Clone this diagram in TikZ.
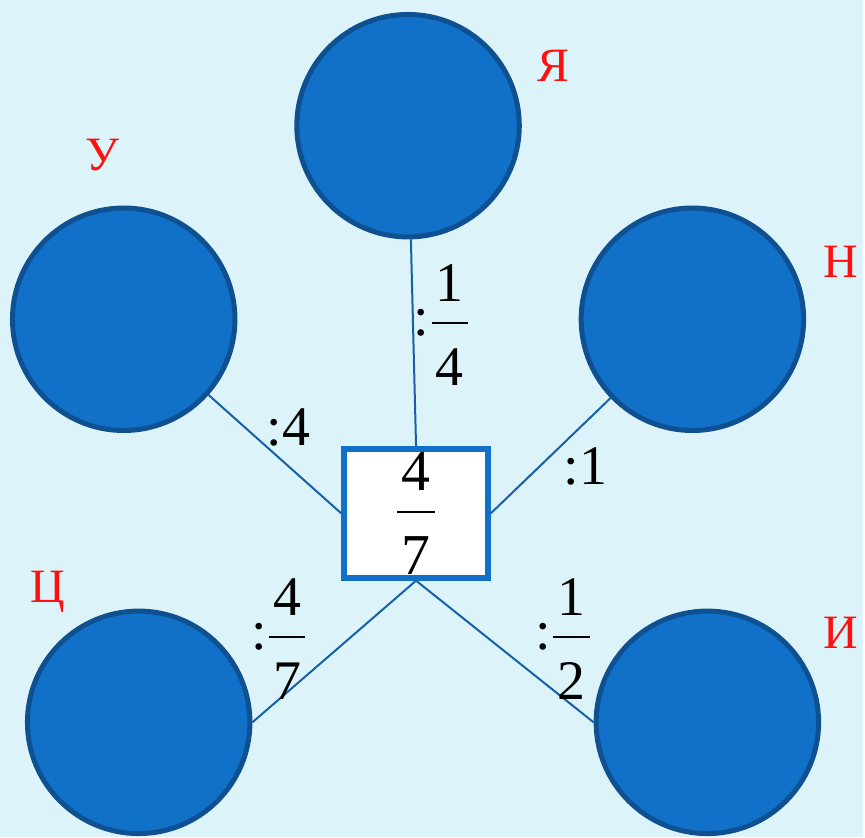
\documentclass[tikz,border=0pt]{standalone}
\usepackage{amsmath}
\usepackage{fontspec}
\setmainfont{Liberation Serif}
\definecolor{SkyBack}{HTML}{DCF4F9}
\definecolor{BallBlue}{HTML}{1170C8}
\definecolor{BallEdge}{HTML}{0F5091}
\definecolor{LinkBlue}{HTML}{1560A8}
\definecolor{LetterRed}{HTML}{FF1010}
\newcommand{\frc}[2]{\dfrac{\mkern1.5mu\text{#1}\rule[-6pt]{0pt}{0pt}\mkern1.5mu}{\rule{0pt}{28pt}\text{#2}}}

\begin{document}
\begin{tikzpicture}[x=0.5pt,y=-0.5pt,
  ball/.style={circle,draw=BallEdge,line width=2.5pt,fill=BallBlue,minimum size=111.5pt,inner sep=0pt},
  letter/.style={text=LetterRed,font=\fontsize{24}{26}\selectfont},
  lbl/.style={font=\fontsize{28}{30}\selectfont,inner sep=0pt},
  link/.style={LinkBlue,line width=1pt}]
\fill[SkyBack] (0,0) rectangle (865,839);
\node[ball] (ya) at (409,126) {};
\node[ball] (u) at (124,320) {};
\node[ball] (n) at (694,320) {};
\node[ball] (ts) at (139,724) {};
\node[ball] (i) at (709,724) {};
\node[draw=BallBlue,line width=3pt,fill=white,minimum width=72pt,minimum height=64.5pt,inner sep=0pt,font=\fontsize{29}{31}\selectfont] (box) at (417,514.5) {$\frc{4}{7}$\hspace{7pt}};
\draw[link] (ya) -- (box.north);
\draw[link] (u) -- (box.west);
\draw[link] (n) -- (box.east);
\draw[link] (box.south) -- (ts.east);
\draw[link] (box.south) -- (i.west);
% letters
\node[letter] (lya) at (555,66) {Я};
\node[letter] (lu) at (103,155) {У};
\node[letter] (ln) at (843,262) {Н};
\node[letter] (lts) at (48,593) {Ц};
\node[letter] (li) at (843,634) {И};
% divisors
\node[lbl] (d14) at (443,326) {$\text{:}\frc{1}{4}$};
\node[lbl] (d4) at (289,428) {:4};
\node[lbl] (d1) at (587,468) {:1};
\node[lbl] (d47) at (280,641) {$\text{:}\frc{4}{7}$};
\node[lbl] (d12) at (565,641) {$\text{:}\frc{1}{2}$};
\end{tikzpicture}
\end{document}
